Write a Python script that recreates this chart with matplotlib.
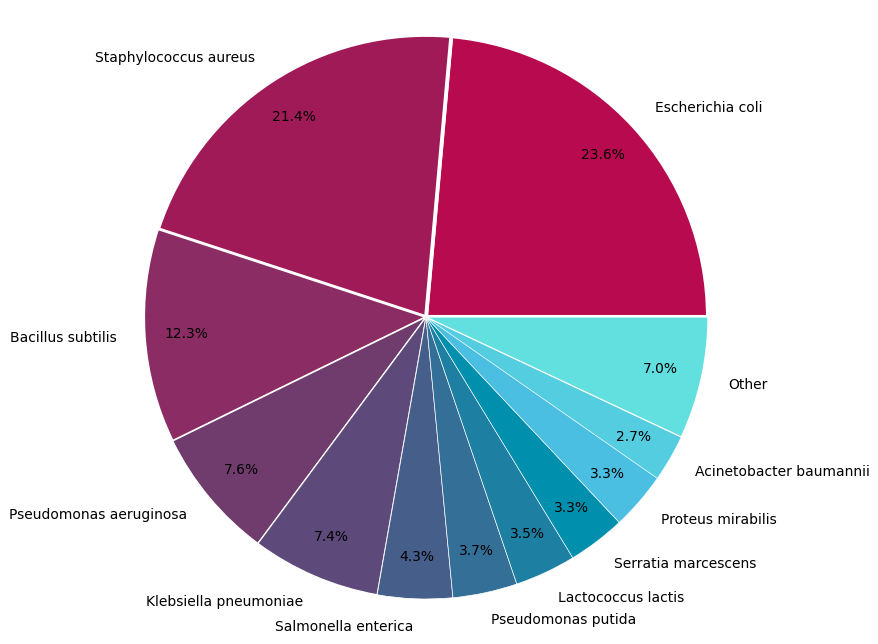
import matplotlib.pyplot as plt

labels = ['Escherichia coli', 'Staphylococcus aureus', 'Bacillus subtilis',
          'Pseudomonas aeruginosa', 'Klebsiella pneumoniae', 'Salmonella enterica',
          'Pseudomonas putida', 'Lactococcus lactis', 'Serratia marcescens',
          'Proteus mirabilis', 'Acinetobacter baumannii', 'Other']
values = [23.6, 21.4, 12.3, 7.6, 7.4, 4.3, 3.7, 3.5, 3.3, 3.3, 2.7, 7.0]
colors = ['#B80A4E', '#A01A58', '#8B2D64', '#703C6E', '#5D4A7A', '#465E8A',
          '#336F96', '#1D80A2', '#008FAD', '#4ABFE2', '#55CDE0', '#62E0E0']

fig = plt.figure(figsize=(8.79, 6.44), dpi=100)
ax = fig.add_axes([0, 0, 1, 1])
wedges, texts, autotexts = ax.pie(values, labels=labels, colors=colors,
                                  autopct='%1.1f%%', pctdistance=0.85,
                                  labeldistance=1.1, startangle=0,
                                  wedgeprops={'edgecolor': 'white'})
# thicker white borders for the bigger slices
for w, v in zip(wedges, values):
    w.set_linewidth(v / 8)

ax.set_aspect('auto')
ax.set_xlim(-426 / 282, (879 - 426) / 282)
ax.set_ylim(-(644 - 317) / 282, 317 / 282)
ax.axis('off')

fig.savefig('out.png', dpi=100)
